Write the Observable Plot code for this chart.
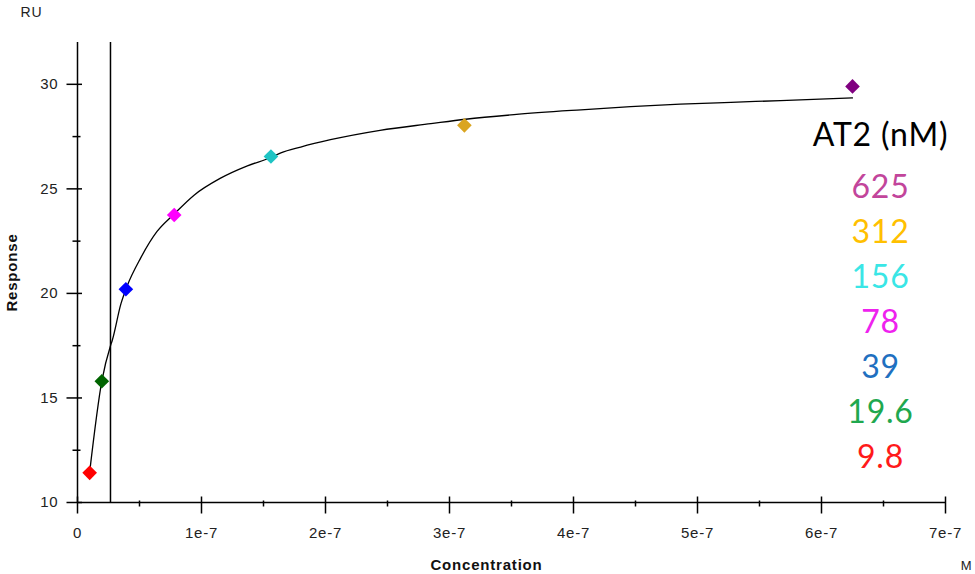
<!DOCTYPE html>
<html>
<head>
<meta charset="utf-8">
<script src="https://cdn.jsdelivr.net/npm/d3@7"></script>
<script src="https://cdn.jsdelivr.net/npm/@observablehq/plot@0.6"></script>
<style>
  html, body { margin: 0; padding: 0; background: #fff; }
  #chart { width: 975px; height: 574px; }
</style>
</head>
<body>
<div id="chart"></div>
<script>
// ---- data ----
const concentrations = [9.8e-9, 19.6e-9, 39e-9, 78e-9, 156e-9, 312e-9, 625e-9];
const responses      = [11.42, 15.80, 20.20, 23.75, 26.55, 28.04, 29.90];
const pointColors    = ["#ff0000", "#006400", "#0000ff", "#ff00ff", "#1fc4c4", "#daa520", "#800080"];

const fitConc = [9.8e-9, 19.6e-9, 26.6e-9, 28e-9, 35e-9, 40e-9, 51e-9, 64e-9, 78e-9, 94e-9, 115e-9,
                 137e-9, 156e-9, 164e-9, 180e-9, 204e-9, 244e-9, 285e-9, 313e-9, 352e-9, 406e-9,
                 446e-9, 486e-9, 527e-9, 567e-9, 625e-9];
const fitResp = [11.45, 15.80, 17.50, 17.75, 19.50, 20.35, 21.70, 22.95, 23.80, 24.70, 25.50,
                 26.10, 26.50, 26.72, 27.00, 27.35, 27.80, 28.12, 28.33, 28.55, 28.78,
                 28.93, 29.05, 29.14, 29.22, 29.35];

const kdLine = [2.66e-8];

const xTicks      = [0, 1e-7, 2e-7, 3e-7, 4e-7, 5e-7, 6e-7, 7e-7];
const xTickLabels = ["0", "1e-7", "2e-7", "3e-7", "4e-7", "5e-7", "6e-7", "7e-7"];
const xMinorTicks = [0.5e-7, 1.5e-7, 2.5e-7, 3.5e-7, 4.5e-7, 5.5e-7, 6.5e-7];
const yTicks      = [10, 15, 20, 25, 30];
const yTickLabels = ["10", "15", "20", "25", "30"];
const yMinorTicks = [12.5, 17.5, 22.5, 27.5];

const legendTitle  = "AT2 (nM)";
const legendLabels = ["625", "312", "156", "78", "39", "19.6", "9.8"];
const legendColors = ["#c2459b", "#ffc000", "#3ae6e6", "#ee22ee", "#1f70c0", "#1fa84f", "#ff1a1a"];

const xTitle = "Concentration", yTitle = "Response", yUnit = "RU", xUnit = "M";

// ---- chart ----
const points = concentrations.map((c, i) => ({c, r: responses[i], color: pointColors[i]}));
const fit = fitConc.map((c, i) => ({c, r: fitResp[i]}));

const tickSym = (a, b, horizontal) => ({
  draw(ctx) {
    if (horizontal) { ctx.moveTo(a, 0); ctx.lineTo(b, 0); }
    else { ctx.moveTo(0, a); ctx.lineTo(0, b); }
  }
});

const axisStroke = {stroke: "#000", strokeWidth: 1.5};

const legendMarks = legendLabels.map((t, i) =>
  Plot.text([t], {
    frameAnchor: "top-right", dx: -65, dy: 155 + 45 * i, lineAnchor: "bottom",
    textAnchor: "middle", fontSize: 32, fill: legendColors[i],
    fontFamily: "Lato, 'Open Sans', sans-serif"
  })
);

const chart = Plot.plot({
  width: 975,
  height: 574,
  marginLeft: 77,
  marginRight: 30,
  marginTop: 42,
  marginBottom: 72,
  x: {domain: [0, 7e-7], axis: null},
  y: {domain: [10, 32], axis: null},
  color: {type: "identity"},
  style: {fontFamily: "'Liberation Sans', Arial, sans-serif", fontSize: "15px", letterSpacing: "0.8px", color: "#222", background: "#fff"},
  marks: [
    Plot.line(fit, {x: "c", y: "r", stroke: "#000", strokeWidth: 1.3, curve: "monotone-x"}),
    Plot.ruleX(kdLine, {...axisStroke}),
    Plot.ruleY([10], {...axisStroke}),
    Plot.ruleX([0], {...axisStroke}),
    // x ticks
    Plot.dot(xTicks, {x: d => d, frameAnchor: "bottom", symbol: tickSym(-6, 11, false), fill: "none", ...axisStroke}),
    Plot.dot(xMinorTicks, {x: d => d, frameAnchor: "bottom", symbol: tickSym(-2, 4, false), fill: "none", ...axisStroke}),
    // y ticks
    Plot.dot(yTicks, {y: d => d, frameAnchor: "left", symbol: tickSym(-11, 4.5, true), fill: "none", ...axisStroke}),
    Plot.dot(yMinorTicks, {y: d => d, frameAnchor: "left", symbol: tickSym(-5, 3, true), fill: "none", ...axisStroke}),
    // tick labels
    Plot.text(xTicks, {x: d => d, text: (d, i) => xTickLabels[i], frameAnchor: "bottom", lineAnchor: "middle", textAnchor: "middle", dy: 31, fill: "#222"}),
    Plot.text(yTicks, {y: d => d, text: (d, i) => yTickLabels[i], frameAnchor: "left", lineAnchor: "middle", dx: -19, textAnchor: "end", fill: "#222"}),
    // axis titles
    Plot.text([xTitle], {frameAnchor: "bottom", textAnchor: "middle", lineAnchor: "bottom", dx: -25, dy: 67, fontWeight: "bold", fontSize: 15, fill: "#111"}),
    Plot.text([yTitle], {frameAnchor: "left", textAnchor: "middle", lineAnchor: "middle", dx: -65, rotate: -90, fontWeight: "bold", fontSize: 15, fill: "#111"}),
    Plot.text([yUnit], {frameAnchor: "top-left", lineAnchor: "middle", dx: -57, dy: -30, textAnchor: "start", fill: "#222", fontSize: 14}),
    Plot.text([xUnit], {frameAnchor: "bottom-right", textAnchor: "middle", lineAnchor: "bottom", dx: 21, dy: 67, fill: "#222", fontSize: 13}),
    // data points
    Plot.dot(points, {x: "c", y: "r", fill: "color", symbol: "diamond2", r: 6.6, stroke: "none"}),
    // legend
    Plot.text([legendTitle], {frameAnchor: "top-right", dx: -65, dy: 103, lineAnchor: "bottom",
      textAnchor: "middle", fontSize: 32, fill: "#000", fontFamily: "Lato, 'Open Sans', sans-serif"}),
    ...legendMarks
  ]
});

document.getElementById("chart").appendChild(chart);
</script>
</body>
</html>
